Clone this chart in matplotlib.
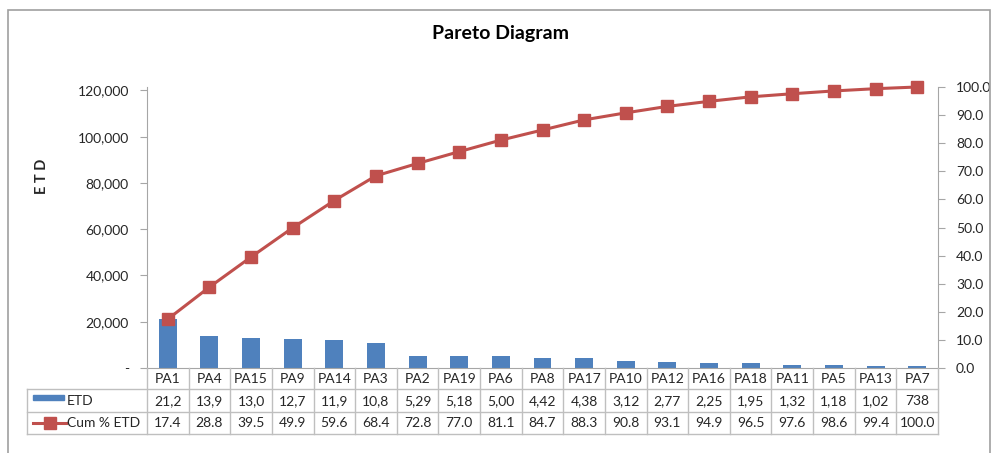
import matplotlib.pyplot as plt
from matplotlib.patches import Rectangle
from matplotlib.lines import Line2D
from matplotlib import transforms

plt.rcParams['font.family'] = ['Lato', 'DejaVu Sans']

categories = ['PA1', 'PA4', 'PA15', 'PA9', 'PA14', 'PA3', 'PA2', 'PA19', 'PA6', 'PA8',
              'PA17', 'PA10', 'PA12', 'PA16', 'PA18', 'PA11', 'PA5', 'PA13', 'PA7']
etd = [21200, 13900, 13000, 12700, 11900, 10800, 5290, 5180, 5000, 4420,
       4380, 3120, 2770, 2250, 1950, 1320, 1180, 1020, 738]
cum_pct = [17.4, 28.8, 39.5, 49.9, 59.6, 68.4, 72.8, 77.0, 81.1, 84.7,
           88.3, 90.8, 93.1, 94.9, 96.5, 97.6, 98.6, 99.4, 100.0]
left_ticks = [0, 20000, 40000, 60000, 80000, 100000, 120000]
right_ticks = [0, 10, 20, 30, 40, 50, 60, 70, 80, 90, 100]

W, H = 992, 453
blue = '#4F81BD'
red = '#C0504D'
grey = '#BFBFBF'
txt = '#262626'

fig = plt.figure(figsize=(W / 100, H / 100), dpi=100)

def px(x, y):
    return x / W, 1 - y / H

# plot area in pixels
x0, x1, ytop, ybot = 147, 938, 87, 368
ax = fig.add_axes([x0 / W, 1 - ybot / H, (x1 - x0) / W, (ybot - ytop) / H])
n = len(categories)
xs = list(range(n))
ax.bar(xs, etd, width=0.43, color=blue, zorder=2)
ax.set_xlim(-0.5, n - 0.5)
ax.set_ylim(0, 121500)
ax.set_yticks(left_ticks)
ax.set_yticklabels(['-' if v == 0 else f'{v:,}' for v in left_ticks])
ax.set_xticks([])
for s in ['top', 'right']:
    ax.spines[s].set_visible(False)
for s in ['left', 'bottom']:
    ax.spines[s].set_color('#A6A6A6')
ax.tick_params(axis='y', colors='#A6A6A6', labelcolor=txt, labelsize=10, length=5, pad=8)

ax2 = ax.twinx()
ax2.plot(xs, cum_pct, color=red, lw=2.2, marker='s', markersize=8.5, zorder=3, clip_on=False)
ax2.set_ylim(0, 100)
ax2.set_yticks(right_ticks)
ax2.set_yticklabels([f'{v:.1f}' for v in right_ticks])
for s in ['top', 'left', 'bottom']:
    ax2.spines[s].set_visible(False)
ax2.spines['right'].set_color('#A6A6A6')
ax2.tick_params(axis='y', colors='#A6A6A6', labelcolor=txt, labelsize=10, length=5, pad=8)

fig.text(*px(42, 176), 'E T D', rotation=90, ha='center', va='center',
         fontsize=10.5, fontweight='bold', color=txt)
fig.text(*px(501, 33), 'Pareto Diagram', ha='center', va='center',
         fontsize=14, fontweight='bold', color='#000000')

# data table below the plot: x in data units, y in figure pixels
tr = transforms.blended_transform_factory(ax.transData, fig.transFigure)
colw = (x1 - x0) / n
xleft = -0.5 - (x0 - 27) / colw

def fy(y):
    return 1 - y / H

lines = []
lines.append(Line2D([xleft, n - 0.5], [fy(389)] * 2))
lines.append(Line2D([xleft, n - 0.5], [fy(412)] * 2))
lines.append(Line2D([xleft, n - 0.5], [fy(434)] * 2))
lines.append(Line2D([xleft, xleft], [fy(389), fy(434)]))
for i in range(n + 1):
    lines.append(Line2D([i - 0.5, i - 0.5], [fy(368), fy(434)]))
for ln in lines:
    ln.set_transform(tr)
    ln.set_color(grey)
    ln.set_linewidth(1)
    ln.set_clip_on(False)
    fig.add_artist(ln)

for i, (c, v, p) in enumerate(zip(categories, etd, cum_pct)):
    fig.text(i, fy(379), c, transform=tr, ha='center', va='center', fontsize=10, color=txt)
    fig.text(i, fy(401), f'{v:,}'[:4], transform=tr, ha='center', va='center', fontsize=10, color=txt)
    fig.text(i, fy(423), f'{p:.1f}', transform=tr, ha='center', va='center', fontsize=10, color=txt)

# legend keys inside the table
fig.add_artist(Rectangle(px(33, 400), 31 / W, 5 / H, color=blue, transform=fig.transFigure))
fig.text(*px(67, 401), 'ETD', ha='left', va='center', fontsize=10, color=txt)
fig.add_artist(Line2D([33 / W, 66 / W], [fy(423)] * 2, color=red, lw=2.2,
                      transform=fig.transFigure))
fig.add_artist(Line2D([49.5 / W], [fy(423)], color=red, marker='s', markersize=8,
                      transform=fig.transFigure))
fig.text(*px(67, 423), 'Cum % ETD', ha='left', va='center', fontsize=10, color=txt)

# outer chart frame
fig.add_artist(Rectangle(px(8, 470), 982 / W, 460 / H, fill=False, edgecolor='#A0A0A0',
                         lw=1.2, transform=fig.transFigure, clip_on=False))

fig.savefig('out.png', dpi=100)
